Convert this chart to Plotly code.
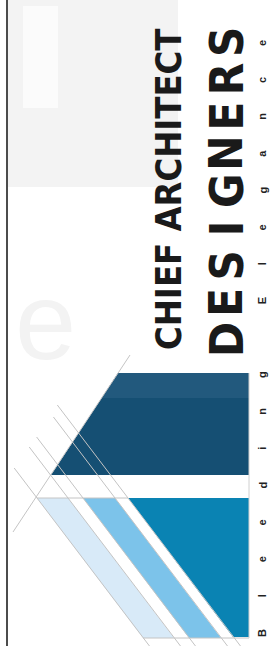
import plotly.graph_objects as go

# ---- content ----
title_line = "CHIEF ARCHITECT"
name_letters = list("DESIGNERS")
tagline_letters = list("Bleeding Elegance")

# logo panels (x, y in page pixels)
dark_x = [118, 249, 249, 51]
dark_y = [373, 373, 475, 475]
band_x = [118, 249, 249, 102]
band_y = [373, 373, 398, 398]
medium_x = [128, 249, 249, 233]
medium_y = [498, 498, 637, 637]
light_x = [83, 115, 221, 189]
light_y = [498, 498, 638, 638]
pale_x = [37, 68, 174, 143]
pale_y = [498, 498, 638, 638]

# guide lines
guide_top_x = [37, 68, 83, 115, 128]
guide_start_y = [468, 447, 437, 417, 405]
slope = 0.76

W, H = 277, 646
fig = go.Figure()

def poly(xs, ys, color):
    fig.add_trace(go.Scatter(x=xs + [xs[0]], y=ys + [ys[0]], mode="lines",
                             fill="toself", fillcolor=color,
                             line=dict(width=0, color=color),
                             hoverinfo="skip", showlegend=False))

def line(xs, ys, color="#c4c4c4", width=1):
    fig.add_trace(go.Scatter(x=xs, y=ys, mode="lines",
                             line=dict(width=width, color=color),
                             hoverinfo="skip", showlegend=False))

# faded background letter block
fig.add_shape(type="rect", x0=8, x1=178, y0=0, y1=187, fillcolor="#f3f3f3", line_width=0, layer="below")
fig.add_shape(type="rect", x0=23, x1=58, y0=6, y1=108, fillcolor="#fbfbfb", line_width=0, layer="below")

poly(pale_x, pale_y, "#d8eaf8")
poly(light_x, light_y, "#7cc3ea")
poly(medium_x, medium_y, "#0a83b3")
poly(dark_x, dark_y, "#154f73")
poly(band_x, band_y, "#22597d")

# guide lines parallel to stripes
for x0, ys in zip(guide_top_x, guide_start_y):
    xa = x0 + slope * (ys - 498)
    xb = x0 + slope * (H - 498)
    line([xa, xb], [ys, H])
# extension of dark panel's slanted edge
line([13, 130], [532, 355])
line([37, 128], [498, 498])
line([143, 249], [638, 638])
line([249, 249], [373, 638], color="#d0d0d0")

# left border
line([7, 7], [0, H], color="#111111", width=1.5)

BOLD_FONT = "Liberation Sans Narrow, Arial Narrow, DejaVu Sans Condensed, sans-serif"
ann = []
ann.append(dict(x=45, y=320, text="e", showarrow=False,
                font=dict(family="Liberation Sans", size=110, color="#f3f3f3")))
ann.append(dict(x=168, y=190, text="<b>" + title_line + "</b>", textangle=-90, showarrow=False,
                xanchor="center", yanchor="middle",
                font=dict(family=BOLD_FONT, size=36, color="#1a1a1a")))
n = len(name_letters)
for i, ch in enumerate(name_letters):
    yy = 340 - i * (340 - 42) / (n - 1)
    ann.append(dict(x=226, y=yy, text="<b>" + ch + "</b>", textangle=-90, showarrow=False,
                    xanchor="center", yanchor="middle",
                    font=dict(family=BOLD_FONT, size=47, color="#1a1a1a")))
m = len(tagline_letters)
for i, ch in enumerate(tagline_letters):
    if ch == " ":
        continue
    yy = 633 - i * (633 - 43) / (m - 1)
    ann.append(dict(x=262, y=yy, text="<b>" + ch + "</b>", textangle=-90, showarrow=False,
                    xanchor="center", yanchor="middle",
                    font=dict(family="Liberation Sans, Arial, sans-serif", size=11, color="#222222")))

fig.update_layout(
    width=W, height=H, margin=dict(l=0, r=0, t=0, b=0),
    paper_bgcolor="white", plot_bgcolor="white",
    xaxis=dict(range=[0, W], visible=False, fixedrange=True),
    yaxis=dict(range=[H, 0], visible=False, fixedrange=True),
    annotations=ann, showlegend=False,
)
fig.write_html("out.html", config={"displayModeBar": False},
               post_script="document.body.style.margin='0';document.body.style.overflow='hidden';")
